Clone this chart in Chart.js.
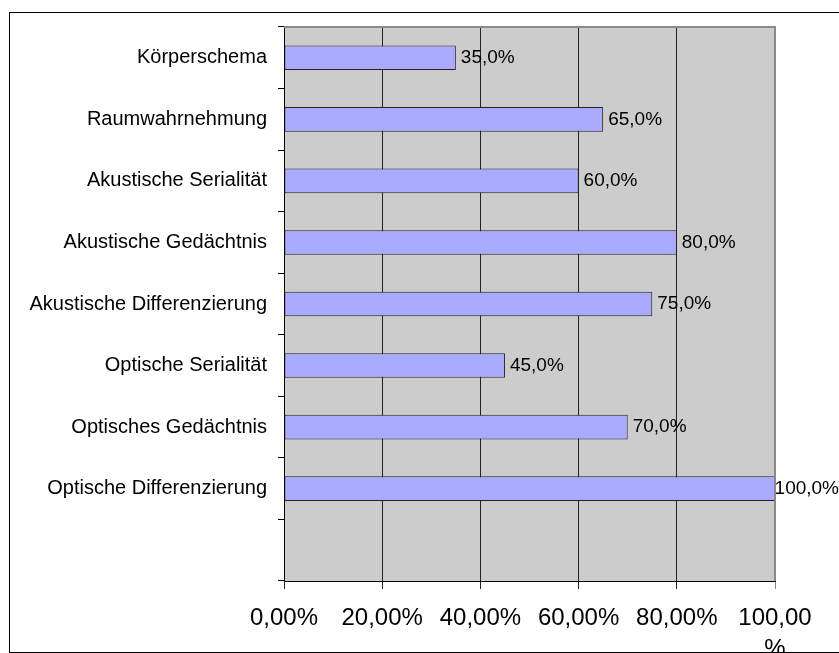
<!DOCTYPE html>
<html>
<head>
<meta charset="utf-8">
<script src="https://cdn.jsdelivr.net/npm/chart.js@4/dist/chart.umd.min.js"></script>
<style>
  html, body { margin: 0; padding: 0; background: #fff; overflow: hidden; }
  #frame { position: absolute; left: 9px; top: 12px; width: 850px; height: 641px; border: 1px solid #000; box-sizing: border-box; z-index: 2; pointer-events: none; }
  #wrap { position: absolute; left: 0; top: 0; width: 839px; height: 653px; z-index: 1; }
</style>
</head>
<body>
<div id="frame"></div>
<div id="wrap"><canvas id="c" width="839" height="653"></canvas></div>
<script>
const categories = ['Körperschema', 'Raumwahrnehmung', 'Akustische Serialität', 'Akustische Gedächtnis', 'Akustische Differenzierung', 'Optische Serialität', 'Optisches Gedächtnis', 'Optische Differenzierung', ''];
const values = [35, 65, 60, 80, 75, 45, 70, 100, null];
const xTickLabels = ['0,00%', '20,00%', '40,00%', '60,00%', '80,00%', ['100,00', '%']];

const FONT = "'Liberation Sans', Arial, sans-serif";

const plotBg = {
  id: 'plotBg',
  beforeDraw(chart) {
    const { ctx, chartArea: a } = chart;
    ctx.save();
    ctx.fillStyle = '#CCCCCC';
    ctx.fillRect(a.left, a.top, a.right - a.left, a.bottom - a.top);
    ctx.restore();
  },
  afterDraw(chart) {
    const { ctx, chartArea: a } = chart;
    ctx.save();
    ctx.strokeStyle = '#8a8a8a';
    ctx.lineWidth = 2;
    ctx.beginPath();
    ctx.moveTo(a.left, a.top);
    ctx.lineTo(a.right, a.top);
    ctx.lineTo(a.right, a.bottom);
    ctx.stroke();
    ctx.restore();
  }
};

const dataLabels = {
  id: 'dataLabels',
  afterDatasetsDraw(chart) {
    const { ctx } = chart;
    const meta = chart.getDatasetMeta(0);
    ctx.save();
    ctx.font = '19px ' + FONT;
    ctx.fillStyle = '#000';
    ctx.textAlign = 'left';
    ctx.textBaseline = 'middle';
    meta.data.forEach((bar, i) => {
      const v = values[i];
      if (v === null || v === undefined) return;
      const txt = v.toFixed(1).replace('.', ',') + '%';
      const w = ctx.measureText(txt).width;
      const x = Math.min(bar.x + 5, chart.width - w);
      ctx.fillText(txt, x, bar.y);
    });
    ctx.restore();
  }
};

new Chart(document.getElementById('c'), {
  type: 'bar',
  data: {
    labels: categories,
    datasets: [{
      data: values,
      backgroundColor: '#AAAAFF',
      borderColor: '#222222',
      borderWidth: 1,
      borderSkipped: false,
      categoryPercentage: 1,
      barPercentage: 0.4
    }]
  },
  options: {
    indexAxis: 'y',
    responsive: false,
    animation: false,
    devicePixelRatio: 1,
    layout: { padding: { top: 27, right: 64, left: 0, bottom: 0 } },
    plugins: { legend: { display: false }, tooltip: { enabled: false } },
    scales: {
      x: {
        min: 0, max: 100,
        ticks: {
          stepSize: 20,
          autoSkip: false,
          maxRotation: 0,
          padding: 14,
          color: '#000',
          font: { family: FONT, size: 24, lineHeight: 1.3 },
          callback: (v, i) => xTickLabels[i]
        },
        grid: {
          drawOnChartArea: true,
          drawTicks: true,
          tickLength: 8,
          color: (c) => (c.tick && c.tick.value === 100) ? '#8a8a8a' : '#222222',
          lineWidth: 1
        },
        border: { display: true, color: '#000', width: 1 },
        afterFit: (s) => { s.height = 72; }
      },
      y: {
        ticks: {
          autoSkip: false,
          padding: 11,
          color: '#000',
          font: { family: FONT, size: 20 }
        },
        grid: {
          offset: true,
          drawOnChartArea: false,
          drawTicks: true,
          tickLength: 6,
          color: '#000'
        },
        border: { display: true, color: '#000', width: 1 },
        afterFit: (s) => { s.width = 284; }
      }
    }
  },
  plugins: [plotBg, dataLabels]
});
</script>
</body>
</html>
